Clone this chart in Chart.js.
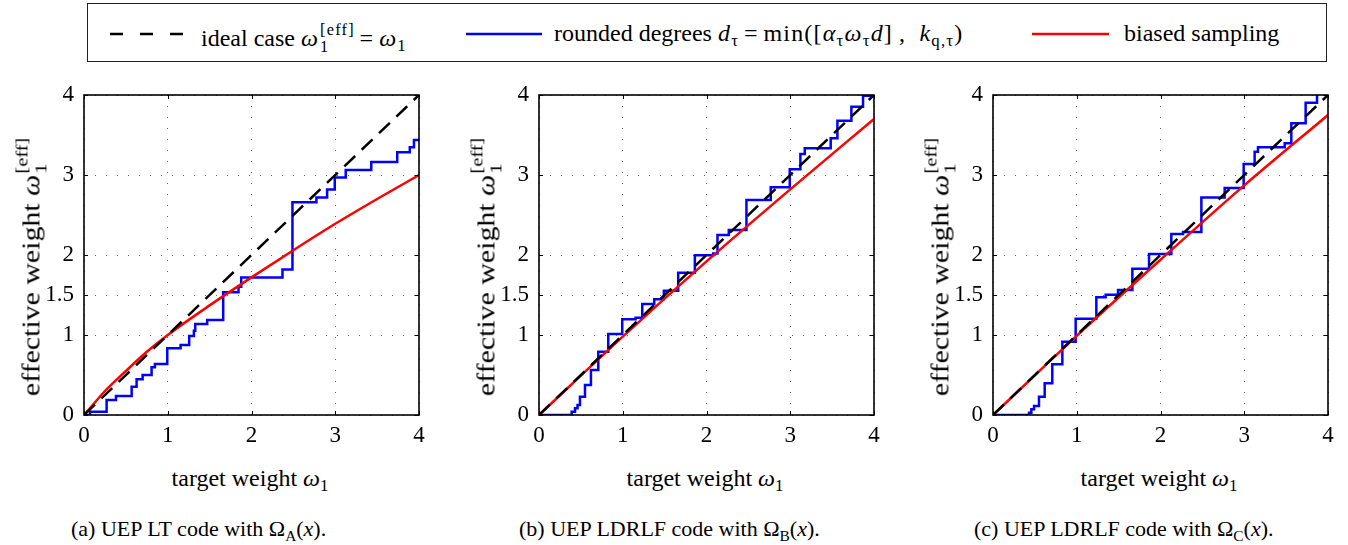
<!DOCTYPE html>
<html lang="en">
<head>
<meta charset="UTF-8">
<title>Effective weight vs target weight</title>
<script src="https://cdn.jsdelivr.net/npm/chart.js"></script>
<style>
  body { margin: 0; background: #fff; font-family: "Liberation Serif", "Times New Roman", "DejaVu Serif", serif; color: #000; }
  #page { position: relative; width: 1348px; height: 545px; overflow: hidden; }
  .panel { position: absolute; top: 80px; width: 420px; height: 380px; }
  .txt { position: absolute; white-space: nowrap; font-size: 24px; line-height: 1; }
  .ytitle { transform: translate(-50%, -50%) rotate(-90deg) scaleX(1.15); font-size: 26px; }
  .xtitle { transform: translateX(-50%); }
  .ss { display: inline-block; vertical-align: -0.4em; font-size: 0.68em; line-height: 1.05; font-style: normal; margin-left: 1px; }
  .ss span { display: block; }
  sub { font-size: 0.7em; vertical-align: -0.3em; line-height: 0; font-style: normal; }
  i { font-style: italic; }
  .eq { margin: 0 0.2em; }
  .m { letter-spacing: 0.05em; }
  #legend { position: absolute; left: 87px; top: 3px; width: 1240px; height: 59px; border: 1.5px solid #222; box-sizing: border-box; }
  .cap { font-size: 22px; }
</style>
</head>
<body>
<div id="page">
  <div id="legend">
    <svg width="1240" height="59" style="position:absolute;left:0;top:0">
      <line x1="22" y1="30" x2="98" y2="30" stroke="#000" stroke-width="2.5" stroke-dasharray="13,17"/>
      <line x1="378" y1="30" x2="454" y2="30" stroke="#0000ff" stroke-width="2.5"/>
      <line x1="944" y1="30" x2="1021" y2="30" stroke="#ff0000" stroke-width="2.5"/>
    </svg>
    <div class="txt" style="left:113px;top:17px">ideal case <span class="m"><i>ω</i><span class="ss"><span>[eff]</span><span>1</span></span><span class="eq">=</span><i>ω</i><sub>1</sub></span></div>
    <div class="txt" style="left:466px;top:17px">rounded degrees <span class="m"><i>d<sub>τ</sub></i><span class="eq">=</span>min([<i>α<sub>τ</sub>ω<sub>τ</sub>d</i>]&thinsp;, &thinsp;<i>k<sub>q,τ</sub></i>)</span></div>
    <div class="txt" style="left:1036px;top:17px">biased sampling</div>
  </div>

  <div class="panel" style="left:14px"><canvas id="chartA" width="420" height="380"></canvas></div>
  <div class="panel" style="left:469px"><canvas id="chartB" width="420" height="380"></canvas></div>
  <div class="panel" style="left:923px"><canvas id="chartC" width="420" height="380"></canvas></div>

  <div class="txt ytitle" style="left:31px;top:267px">effective weight <i>ω</i><span class="ss"><span>[eff]</span><span>1</span></span></div>
  <div class="txt ytitle" style="left:486px;top:267px">effective weight <i>ω</i><span class="ss"><span>[eff]</span><span>1</span></span></div>
  <div class="txt ytitle" style="left:940px;top:267px">effective weight <i>ω</i><span class="ss"><span>[eff]</span><span>1</span></span></div>

  <div class="txt xtitle" style="left:250px;top:466px">target weight <i>ω</i><sub>1</sub></div>
  <div class="txt xtitle" style="left:705px;top:466px">target weight <i>ω</i><sub>1</sub></div>
  <div class="txt xtitle" style="left:1159px;top:466px">target weight <i>ω</i><sub>1</sub></div>

  <div class="txt cap" style="left:71px;top:518px">(a) UEP LT code with Ω<sub>A</sub>(<i>x</i>).</div>
  <div class="txt cap" style="left:519px;top:518px">(b) UEP LDRLF code with Ω<sub>B</sub>(<i>x</i>).</div>
  <div class="txt cap" style="left:974px;top:518px">(c) UEP LDRLF code with Ω<sub>C</sub>(<i>x</i>).</div>
</div>

<script>
// axis ticks
const xTicks = [0, 1, 2, 3, 4];
const yTicks = [0, 1, 1.5, 2, 3, 4];

// ideal case, same for all panels
const idealX = [0, 4];
const idealY = [0, 4];

// (a) UEP LT code, rounded degrees (x where the step happens, new level)
const stepXA = [0, 0.072, 0.27, 0.382, 0.569, 0.628, 0.70, 0.807, 0.847, 0.994, 1.153, 1.256, 1.312, 1.328, 1.471,
                1.662, 1.845, 1.877, 2.37, 2.489, 2.775, 2.903, 2.994, 3.125, 3.43, 3.74, 3.89, 3.94, 4.0];
const stepYA = [0, 0.042, 0.188, 0.238, 0.354, 0.446, 0.50, 0.596, 0.638, 0.833, 0.875, 0.988, 1.054, 1.138, 1.188,
                1.533, 1.604, 1.72, 1.82, 2.658, 2.72, 2.82, 2.97, 3.063, 3.163, 3.283, 3.346, 3.438, 3.438];
// (a) biased sampling
const biasXA = [0, 0.1, 0.25, 0.5, 0.75, 1, 1.5, 2, 2.5, 3, 3.5, 4];
const biasYA = [0, 0.12, 0.3, 0.55, 0.79, 1.0, 1.37, 1.72, 2.06, 2.39, 2.70, 3.0];

// (b) UEP LDRLF code with Omega_B
const stepXB = [0, 0.33, 0.39, 0.43, 0.46, 0.489, 0.549, 0.62, 0.708, 0.827, 0.994, 1.153, 1.233, 1.376, 1.491,
                1.662, 1.861, 2.08, 2.131, 2.266, 2.477, 2.767, 2.994, 3.121, 3.173, 3.483, 3.563, 3.73, 3.869, 4.0];
const stepYB = [0, 0, 0.042, 0.083, 0.125, 0.229, 0.375, 0.563, 0.79, 1.013, 1.196, 1.217, 1.388, 1.446, 1.554,
                1.779, 1.996, 2.02, 2.25, 2.313, 2.688, 2.846, 3.071, 3.263, 3.333, 3.458, 3.679, 3.854, 3.99, 3.99];
const biasXB = [0, 1, 2, 3, 4];
const biasYB = [0, 0.98, 1.92, 2.82, 3.7];

// (c) UEP LDRLF code with Omega_C
const stepXC = [0, 0.398, 0.43, 0.458, 0.49, 0.549, 0.617, 0.708, 0.828, 0.987, 1.234, 1.345, 1.493, 1.664, 1.863,
                2.129, 2.269, 2.488, 2.766, 2.993, 3.124, 3.164, 3.483, 3.562, 3.733, 3.869, 4.0];
const stepYC = [0, 0, 0.029, 0.071, 0.113, 0.229, 0.396, 0.633, 0.917, 1.204, 1.471, 1.504, 1.563, 1.829, 2.013,
                2.263, 2.288, 2.72, 2.838, 3.138, 3.29, 3.346, 3.396, 3.646, 3.904, 4.02, 4.02];
const biasXC = [0, 1, 2, 3, 4];
const biasYC = [0, 0.99, 1.94, 2.87, 3.75];

const pts = (xs, ys) => xs.map((x, i) => ({ x: x, y: ys[i] }));
const tickFont = { family: '"Liberation Serif", "Times New Roman", serif', size: 23 };

// box around the axes + inward ticks like matlab
const framePlugin = {
    id: 'frame',
    afterDatasetsDraw(chart) {
        const { ctx, chartArea: a, scales: { x, y } } = chart;
        ctx.save();
        ctx.strokeStyle = '#000';
        ctx.lineWidth = 1;
        ctx.beginPath();
        xTicks.forEach(v => {
            const p = Math.round(x.getPixelForValue(v)) + 0.5;
            ctx.moveTo(p, a.bottom); ctx.lineTo(p, a.bottom - 4);
            ctx.moveTo(p, a.top); ctx.lineTo(p, a.top + 4);
        });
        yTicks.forEach(v => {
            const p = Math.round(y.getPixelForValue(v)) + 0.5;
            ctx.moveTo(a.left, p); ctx.lineTo(a.left + 4, p);
            ctx.moveTo(a.right, p); ctx.lineTo(a.right - 4, p);
        });
        ctx.stroke();
        ctx.lineWidth = 1.6;
        ctx.strokeRect(a.left, a.top, a.width, a.height);
        ctx.restore();
    }
};

function makeChart(id, stepX, stepY, biasX, biasY) {
    return new Chart(document.getElementById(id), {
        type: 'line',
        data: {
            datasets: [
                {
                    label: 'ideal case',
                    data: pts(idealX, idealY),
                    borderColor: '#000',
                    borderWidth: 2.5,
                    borderDash: [15, 9],
                    pointRadius: 0
                },
                {
                    label: 'biased sampling',
                    data: pts(biasX, biasY),
                    borderColor: '#ff0000',
                    borderWidth: 2.5,
                    cubicInterpolationMode: 'monotone',
                    pointRadius: 0
                },
                {
                    label: 'rounded degrees',
                    data: pts(stepX, stepY),
                    borderColor: '#0000ff',
                    borderWidth: 2.5,
                    stepped: 'before',
                    pointRadius: 0
                }
            ]
        },
        options: {
            responsive: false,
            animation: false,
            events: [],
            layout: { padding: { top: 15, right: 15, left: 0, bottom: 0 } },
            plugins: { legend: { display: false }, tooltip: { enabled: false } },
            scales: {
                x: {
                    type: 'linear',
                    min: 0, max: 4,
                    afterBuildTicks: s => { s.ticks = xTicks.map(v => ({ value: v })); },
                    afterFit: s => { s.height = 45; s.paddingLeft = 0; s.paddingRight = 0; },
                    ticks: { font: tickFont, color: '#000', padding: 7, autoSkip: false, maxRotation: 0,
                             callback: v => String(v) },
                    grid: { color: '#666', lineWidth: 1, drawTicks: false },
                    border: { display: false, dash: [1, 10] }
                },
                y: {
                    type: 'linear',
                    min: 0, max: 4,
                    afterBuildTicks: s => { s.ticks = yTicks.map(v => ({ value: v })); },
                    // keep the plot box where it is, labels may stick out
                    afterFit: s => { s.width = 70; s.paddingTop = 0; s.paddingBottom = 0; },
                    ticks: { font: tickFont, color: '#000', padding: 10, autoSkip: false,
                             callback: v => String(v) },
                    grid: { color: '#666', lineWidth: 1, drawTicks: false },
                    border: { display: false, dash: [1, 10] }
                }
            }
        },
        plugins: [framePlugin]
    });
}

makeChart('chartA', stepXA, stepYA, biasXA, biasYA);
makeChart('chartB', stepXB, stepYB, biasXB, biasYB);
makeChart('chartC', stepXC, stepYC, biasXC, biasYC);
</script>
</body>
</html>
